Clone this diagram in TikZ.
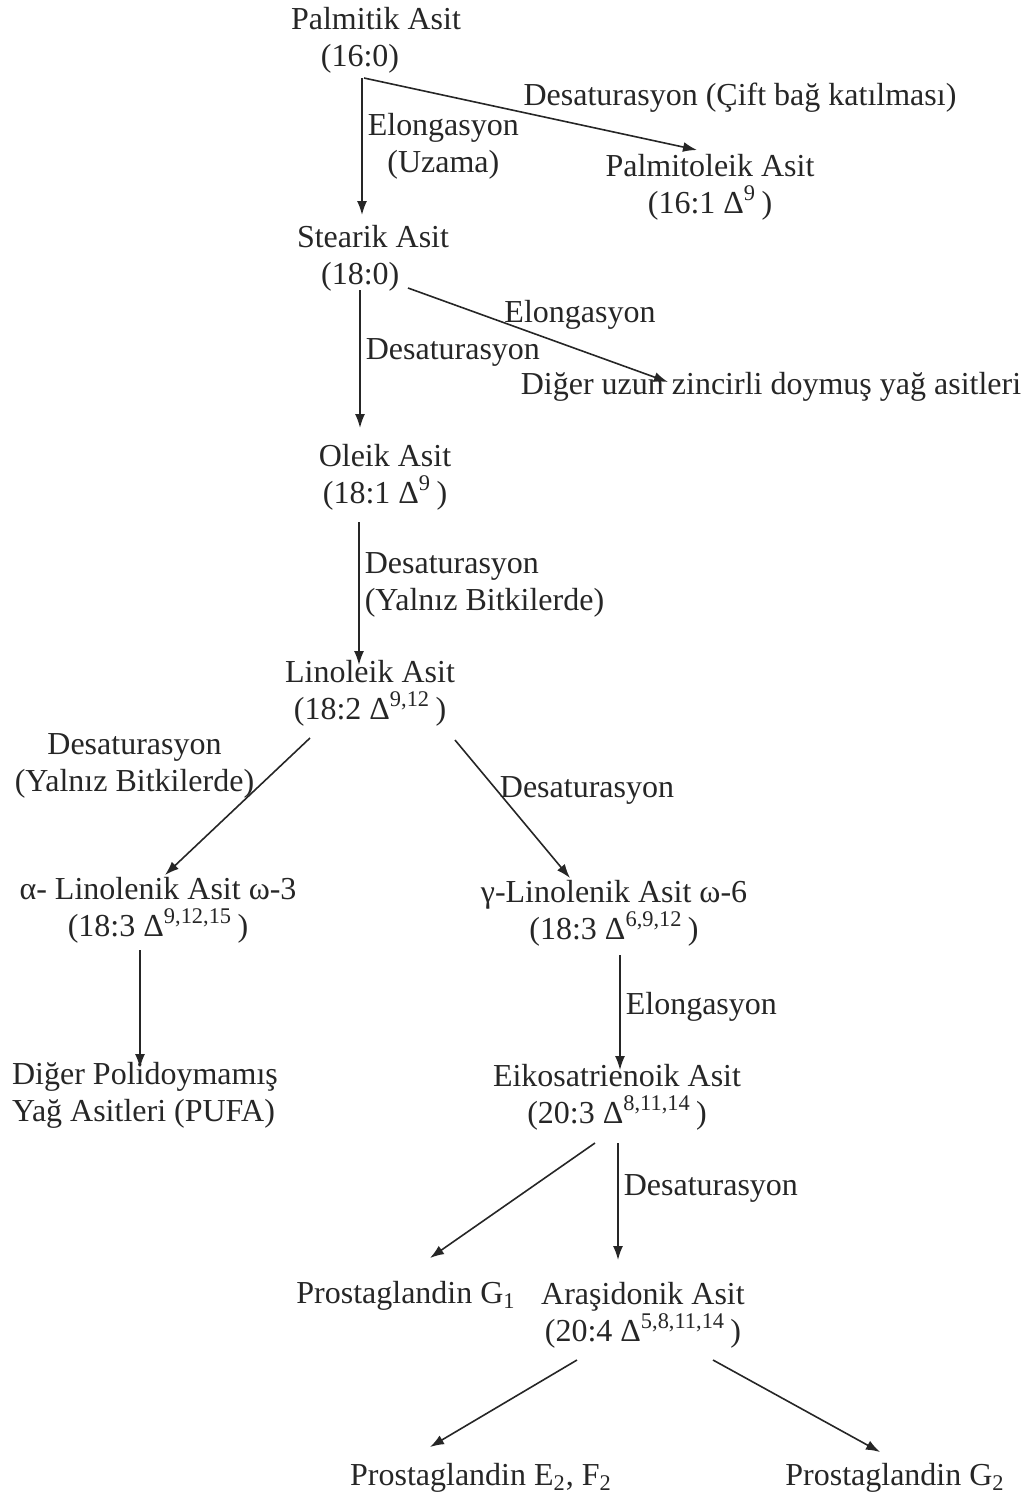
\documentclass[tikz,border=0pt]{standalone}
\usepackage{fontspec}
\setmainfont{Liberation Serif}
\usepackage{tikz}
\usetikzlibrary{calc}
\usetikzlibrary{arrows.meta}
\tikzstyle{every node}=[font=\fontsize{16}{18.5}\selectfont,align=center,inner sep=2.5pt]
\newcommand{\dlt}[1]{Δ\textsuperscript{#1}\,}

\begin{document}
\begin{tikzpicture}[->,>={Latex[length=7pt,width=5pt]},x=0.5pt,y=-0.5pt,line width=0.8pt,color=black!85]
	\useasboundingbox (0,0) rectangle (1030,1501);
	\node (pa) at (376,40) {Palmitik Asit\\(16:0)\kern1em};
	\node (po) at (710,187) {Palmitoleik Asit\\(16:1 \dlt{9})};
	\node (st) at (373,258) {Stearik Asit\\(18:0)\kern0.8em};
	\node (du) at (771,387) {Diğer uzun zincirli doymuş yağ asitleri};
	\node (ol) at (385,477) {Oleik Asit\\(18:1 \dlt{9})};
	\node (li) at (370,693) {Linoleik Asit\\(18:2 \dlt{9,12})};
	\node (al) at (158,910) {α- Linolenik Asit ω-3\\(18:3 \dlt{9,12,15})};
	\node (ga) at (614,913) {γ-Linolenik Asit ω-6\\(18:3 \dlt{6,9,12})};
	\node[align=left] (pu) at (145,1095) {Diğer Polidoymamış\\Yağ Asitleri (PUFA)};
	\node (ei) at (617,1097) {Eikosatrienoik Asit\\(20:3 \dlt{8,11,14})};
	\node (g1) at (406,1296) {Prostaglandin G\textsubscript{1}};
	\node (ar) at (643,1315) {Araşidonik Asit\\(20:4 \dlt{5,8,11,14})};
	\node (ef) at (481,1478) {Prostaglandin E\textsubscript{2}, F\textsubscript{2}};
	\node (g2) at (895,1478) {Prostaglandin G\textsubscript{2}};
	% labels away from their arrows
	\node (dc) at (740,98) {Desaturasyon (Çift bağ katılması)};
	\node (el) at (580,315) {Elongasyon};
	\path
		($(pa)+(-14,38)$)	edge	node[right]{Elongasyon\\(Uzama)}	($(st)+(-11,-43)$)
		($(pa)+(-12,38)$)	edge	($(po)+(-13,-37)$)
		($(st)+(-13,32)$)	edge	node[right,pos=0.45]{Desaturasyon}	($(ol)+(-25,-49)$)
		($(st)+(35,30)$)	edge	($(du)+(-103,-5)$)
		($(ol)+(-26,45)$)	edge	node[right,pos=0.44,align=left]{Desaturasyon\\(Yalnız Bitkilerde)}	($(li)+(-11,-28)$)
		($(li)+(-60,45)$)	edge	node[above left,pos=0.4,shift={(8,11)}]{Desaturasyon\\(Yalnız Bitkilerde)}	($(al)+(7,-35)$)
		($(li)+(85,47)$)	edge	node[right,pos=0.34,shift={(0,4)}]{Desaturasyon}	($(ga)+(-44,-35)$)
		($(al)+(-18,40)$)	edge	($(pu)+(-5,-27)$)
		($(ga)+(6,42)$)	edge	node[right,pos=0.45]{Elongasyon}	($(ei)+(3,-27)$)
		($(ei)+(-22,46)$)	edge	($(g1)+(24,-38)$)
		($(ei)+(1,46)$)	edge	node[right,pos=0.39]{Desaturasyon}	($(ar)+(-25,-55)$)
		($(ar)+(-66,45)$)	edge	($(ef)+(-51,-31)$)
		($(ar)+(70,45)$)	edge	($(g2)+(-15,-26)$);
\end{tikzpicture}
\end{document}
